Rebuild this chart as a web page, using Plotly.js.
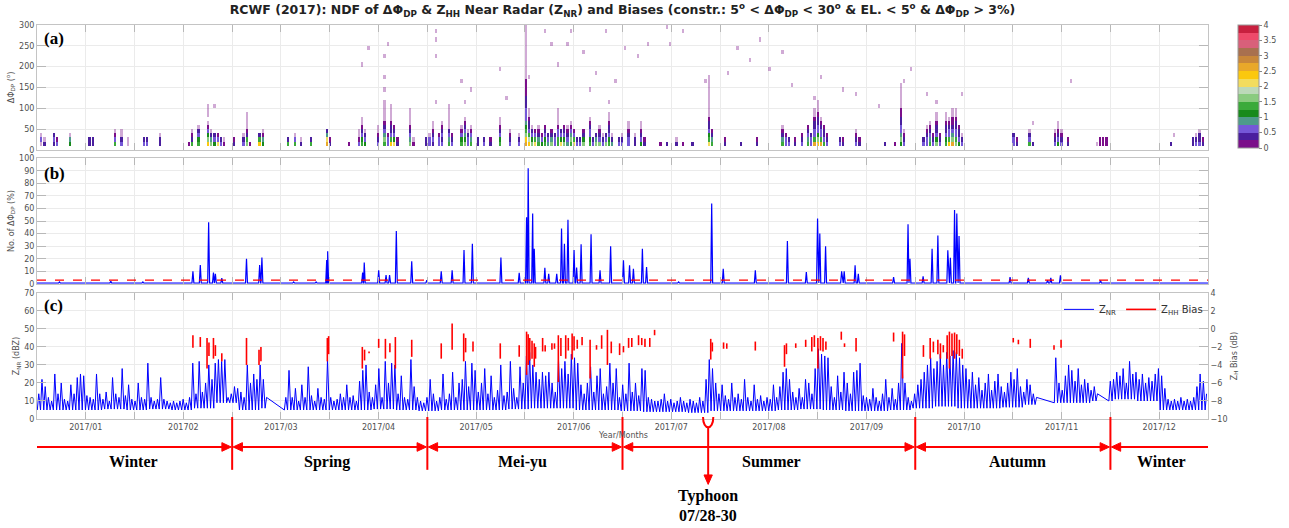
<!DOCTYPE html>
<html><head><meta charset="utf-8">
<script src="https://cdn.plot.ly/plotly-3.0.1.min.js"></script>
<style>html,body{margin:0;padding:0;background:#fff}#chart{width:1289px;height:528px}</style>
</head><body><div id="chart"></div>
<script>
// ---------- tick labels ----------
const monthLabels = ["2017/01","201702","2017/03","2017/04","2017/05","2017/06","2017/07","2017/08","2017/09","2017/10","2017/11","2017/12"];

// ---------- panel (c): Z_NR daily maxima (dBZ), null = no data ----------
const zHighJan = [14,22,18,12,10,25,14,20,11,10,19,14,23,25,24,13,12,11,25,14,11,15,10,23,14,12,28,13,19,11,10];
const zHighFeb = [20,12,11,31,12,10,11,23,11,10,9,10,9,10,11,9,12,31,14,32,15,20,30,22,31,33,32,33];
const zHighMar = [12,14,18,17,15,12,30,20,25,22,30,22,12,null,null,null,null,null,12,27,12,17,10,19,12,29,13,10,17,12,11];
const zHighApr = [33,12,10,11,14,12,19,12,13,10,21,27,30,15,12,19,28,12,32,20,31,30,14,24,12,11,33,18,12,10];
const zHighMay = [9,12,22,14,10,12,25,11,14,26,12,20,22,32,18,31,27,15,20,28,14,24,12,16,30,13,15,32,17,12,29];
const zHighJun = [20,35,37,30,26,22,26,24,26,20,15,33,28,32,25,36,34,31,19,14,20,29,15,24,28,14,18,31,20,28];
const zHighJul = [12,19,14,31,15,20,13,28,27,12,11,10,10,11,14,10,11,9,10,12,10,9,11,10,9,12,10,22,33,28,20];
const zHighAug = [14,19,13,11,20,12,14,11,22,12,10,19,11,13,10,12,11,19,12,18,26,28,22,15,12,17,12,22,20,14,28];
const zHighSep = [39,36,35,34,18,12,24,15,26,20,14,26,27,31,13,12,11,17,12,10,14,22,12,17,11,20,42,20,12,10];
const zHighOct = [14,19,22,26,30,34,28,32,36,30,37,35,38,37,34,30,28,22,26,19,23,16,20,25,16,21,25,18,15,20,26];
const zHighNov = [22,28,18,15,22,19,14,12,null,null,null,null,null,34,20,16,24,30,27,21,28,19,22,20,16,18,14,null,null,null];
const zHighDec = [21,22,26,24,28,20,32,25,26,22,25,20,23,21,25,28,24,17,11,10,11,10,12,10,11,10,12,18,25,21,14];
// weekly background level (dBZ)
const zLowWeekly = [5,5,5,5.5,5,5.5,5,6,9,5, 6,5,5,5,5,5.5,5,4.5,5,5, 5,5.5,6,6,5,5,4.5,4,4,3.5, 4.5,4.5,4.5,5,5.5,5,4.5,4.5,5,6, 7,6,6,6.5,8,9,9,10,11,10, 5,5,5];

// ---------- panel (c): Z_HH bias segments (dB) ----------
const biasDay = [48.6,50.9,53,53.6,55,55.6,57.6,65.3,69.2,69.8,90.5,90.9,101.4,102.1,103.5,106.5,108.6,110,111.7,116.8,126,129.4,133,133.6,135.9,144.4,150.3,152.6,153.1,153.6,154.3,155,155.4,157.6,158.4,160.5,161.3,162.5,163.3,164.8,165.6,166.8,167.4,168.4,169.9,172.4,174.4,176,177.8,179,181.6,182.8,184.4,185.4,187.5,188.5,189.5,191,192.5,210,210.5,214,215,223.9,233,233.6,236.5,239.6,241.5,242.3,243.4,244.2,245,245.9,250.7,251.7,255.3,267,269.8,270.4,276.3,278.4,279.4,280.8,281.6,282.5,283.7,284.4,285.2,286,286.7,287.5,288.4,304.3,305.9,309.6,317,319.2];
const biasHi  = [-0.7,-0.9,-1.0,-1.5,-1.0,-1.8,-2.7,-1.0,-2.3,-2.0,-1.0,-0.8,-2.0,-2.3,-2.5,-1.1,-1.1,-1.6,-0.9,-1.2,-1.6,0.6,-0.5,-1.0,-1.4,-1.6,-1.8,-0.3,-0.6,-1.0,-1.3,-1.6,-2.0,-1.0,-1.8,-1.6,-1.6,-0.7,-1.0,-0.7,-1.0,-0.5,-0.8,-1.2,-0.9,-1.2,-1.8,-0.7,-0.1,-1.4,-1.6,-1.9,-1.0,-1.0,-0.7,-1.0,-1.1,-1.0,-0.1,-1.1,-1.5,-1.5,-1.6,-1.4,-1.8,-1.6,-1.6,-1.2,-0.9,-0.7,-1.0,-0.8,-1.0,-1.4,-0.3,-1.6,-1.0,-0.4,-0.3,-0.6,-1.8,-1.0,-1.4,-1.2,-1.6,-1.8,-0.7,-0.3,-0.5,-0.4,-0.6,-1.2,-2.2,-1.0,-1.2,-1.1,-1.8,-1.2];
const biasLo  = [-2.1,-2.0,-4.4,-3.0,-3.3,-3.0,-3.6,-4.0,-4.0,-3.6,-3.6,-2.8,-4.4,-3.5,-2.7,-2.1,-3.3,-2.6,-4.4,-3.1,-3.3,-2.3,-3.6,-2.6,-2.5,-3.3,-3.1,-5.1,-4.0,-3.5,-3.3,-4.2,-3.3,-2.5,-2.5,-2.3,-2.2,-5.9,-3.0,-3.3,-2.4,-3.4,-2.4,-2.2,-1.8,-5.5,-2.3,-2.2,-4.0,-2.7,-2.9,-2.6,-2.1,-2.0,-1.8,-1.8,-2.0,-2.0,-0.7,-3.4,-2.5,-2.2,-2.2,-2.4,-4.2,-2.8,-2.1,-2.0,-2.5,-2.0,-4.4,-2.4,-2.5,-2.3,-1.2,-2.0,-2.5,-1.4,-5.5,-3.0,-3.1,-3.3,-2.6,-2.8,-3.3,-2.6,-3.3,-4.4,-3.0,-3.3,-2.8,-3.0,-3.3,-1.5,-1.7,-2.1,-2.3,-2.1];

// ---------- panel (b): No. of ΔΦDP (%) ----------
const pctBaseline = 0.6;
const pctDays = [7,23,33,48.6,50.9,53.5,55,55.6,57.6,65.3,69.4,70.1,80,87,90.3,90.6,101.5,102,106.5,108.8,109.9,112,116.8,121.5,126,129.4,133.1,135.7,144.6,150.3,152.6,153.1,154.5,155,158.3,159.5,162,163.5,164.4,165.5,167.4,168.2,169.6,172.7,175.5,178.8,182.8,184.7,185.9,188.7,190,200,210.3,213.9,223.9,233.9,239.8,243.3,244,245.8,250.8,251.6,255,256,267,271.5,272.1,276.2,279,280.8,283.9,284.7,286,286.7,287.4,303.3,309,315,316,319,331.5];
const pctVals = [1.5,2,1.5,10,15,49,9,8,4.5,20,15,21,1.5,1.5,19,26,9,17,10.7,7,7,42,18,3,10,10.7,27,32,21,8.8,53,92,56,28,12.8,8,8,44,32,51,27,13,31.5,39.5,10.7,30,18.7,14.7,12,28,13.3,1.5,64,12,10.7,34,9.3,52,40,30,10,10,14.7,8,5.3,47.5,20,6,28,38.4,26.7,20.8,58.7,56,38,5.3,4.8,3,4.8,6.7,2.7];
const pctThreshold = 3;

// ---------- panel (a): NDF of ΔΦDP, columns [day, NDF in 10-20°, 20-30°, 30-40°, ...] ----------
const aCols = [
 [1,0.1,0.6,0.1],[2,0.3,0.1],[5,0.4,0.6,0.3],[6,0.5,0.2],[10,1.2,0.9,0.1],[16,0.3,0.4],[17,0.4,0.3],
 [24,1.3,0.6,0.2,0.1],[26,0.5,0.3,0.1,0.1],[28,0.1,0.1],[33,0.5,0.3],[34,0.6,0.4],[38,0.4,0.3,0.1],
 [47,0.2],[48,1.3,0.4,0.2,0.1],[50,1.4,1.2,0.6,0.3,0.1],[53,2.3,1.5,1.0,0.5,0.2,0.1,null,0.1,0.1],
 [54,1.6,0.8,0.3,0.1],[55,1.1,0.7,0.4],[56,2.1,0.6,0.2],[57,0.6,0.4],[58,0.2,0.1],[61,0.3,0.2],
 [64,0.5,0.3,0.1],[65,1.5,1.3,0.4,0.2,0.1,0.1,0.1,0.1],[66,0.2],[69,2.4,1.3,0.4],[70,1.2,0.9,0.2,0.1],
 [78,1.3,0.3],[80,1.4,0.5,0.1],[82,0.3,0.1],[85,1.3,0.4],[90,2.5,2.2,0.8,0.3],[91,0.4,0.2],[97,0.2],
 [100,0.6,0.2,0.1,0.1],[101,1.4,1.1,0.7,0.4,0.2,0.1,0.1],[102,1.2,0.5,0.3,0.1],[106,0.5,0.4,0.2,0.1,0.1],
 [108,1.3,1.5,0.8,0.6,0.3,0.2,0.1,0.1,0.1,0.1,0.1],[109,0.7,0.5,0.2],[110,2.4,1.4,0.6,0.4,0.3,0.2,0.1,0.1,0.1],
 [111,2.2,1.2,0.5,0.3,0.2],[112,0.4,0.2],[116,1.5,0.9,0.5,0.3,0.2,0.1,0.1,0.1,0.1],[117,0.2,0.1],
 [121,0.4,0.3],[122,0.6,0.5,0.1],[123,0.4,0.6,0.4,0.2,0.1,0.1],[125,0.5,0.6,0.2],[126,0.6,0.4,0.6,0.3,0.2,0.1],
 [128,1.3,0.8,0.5,0.3,0.1,0.1,0.1,0.1,0.1,0.1],[129,0.6,0.3,0.2],[132,1.4,1.0,0.5,0.2,0.1],
 [133,1.6,1.2,0.8,0.6,0.3,0.2,0.1],[134,0.7,0.6,0.3,0.1],[135,1.3,0.8,0.6,0.2,0.1],[137,0.4,0.3],
 [139,0.5,0.4],[141,0.3,0.2],[144,1.3,1.1,0.6,0.4,0.2,0.1,0.1],[147,0.6,0.3,0.2,0.1],[150,0.7,0.4,0.1],
 [152,2.6,2.3,1.6,1.3,1.1,0.9,0.7,0.6,0.5,0.4,0.3,0.3,0.2,0.2,0.2,0.2,0.1,0.1,0.1,0.1,0.1,0.1,0.1,0.1,0.1,0.1,0.1,0.1,0.1],
 [153,2.4,1.8,1.3,0.6,0.4,0.3,0.2,0.1,0.1],[154,1.6,1.2,0.6,0.3,0.1],[155,2.2,1.3,0.5,0.2],
 [156,1.4,0.9,0.4,0.2,0.1],[157,1.2,0.6,0.2],[158,1.3,1.1,0.5,0.3,0.2],[159,0.9,0.6,0.3],[160,1.5,0.8,0.4,0.2],
 [161,0.7,0.5,0.3],[162,1.4,1.3,0.6,0.5,0.2,0.1,0.1,0.1,0.1],[163,2.1,1.2,0.5,0.3],[164,1.5,1.2,0.6,0.4,0.2],
 [165,0.8,0.5,0.3,0.2,0.1],[166,1.4,1.6,0.8,0.5,0.2,0.1],[167,2.2,1.3,0.6,0.2],[168,0.6,0.4],[169,0.5,0.3],
 [170,1.6,1.0,0.4,0.2],[172,1.3,1.2,0.7,0.5,0.3,0.2,0.1],[173,0.6,0.3],[174,1.5,0.8,0.3],[175,1.7,0.6,0.4,0.2,0.1],
 [176,0.5,0.3,0.1],[177,1.6,0.7,0.3],[178,1.4,1.2,0.6,0.4,0.3,0.2,0.1,0.1],[179,0.8,0.4,0.1],[181,0.5,0.3],
 [182,0.6,0.3,0.1],[184,0.7,0.5,0.4,0.2,0.1,0.1],[186,0.4,0.3,0.1],[188,1.2,0.6,0.4,0.2,0.1,0.1],[189,0.3,0.2],
 [194,0.2],[196,0.3],[199,0.4,0.1],[201,0.2],[204,0.3],
 [209,2.2,1.4,1.0,0.6,0.4,0.3,0.2,0.1,0.1,0.1,0.1,0.1,0.1,0.1,0.1,0.1,0.1],[210,1.4,0.8,0.4,0.2],
 [214,0.3,0.2],[219,0.3],[224,0.4,0.2],[232,1.3,0.9,0.4,0.2,0.1],[233,0.6,0.5,0.2],[234,0.5,0.3],[236,0.3,0.2],
 [238,0.5,0.4,0.2],[240,1.3,0.9,0.5,0.3,0.2],[241,0.6,0.5,0.3],[242,2.5,1.4,0.7,0.6,0.4,0.3,0.2,0.1,0.1],
 [243,2.3,1.6,1.2,0.6,0.5,0.4,0.3,0.2,0.1,0.1,0.1],[244,2.6,1.3,0.6,0.5,0.3,0.2,0.1],[245,1.4,0.7,0.4,0.3,0.2],
 [246,0.6,0.4,0.2],[250,0.5,0.3],[251,0.4,0.2],[255,0.5,0.4,0.2,0.1],[256,0.3,0.2],[264,0.3],[267,0.2],
 [269,1.2,1.5,0.9,0.6,0.5,0.4,0.3,0.2,0.2,0.1,0.1,0.1,0.1,0.1,0.1],[270,0.6,0.4,0.2,0.1],[276,0.5,0.3],
 [277,0.7,0.5,0.3,0.2,0.1],[278,1.3,0.8,0.5,0.3,0.2,0.1],[279,0.6,0.4,0.2],[280,1.5,1.2,0.6,0.4,0.3,0.2,0.1,0.1],
 [281,0.5,0.3,0.2],[283,1.4,1.1,0.7,0.4,0.3,0.2,0.1,0.1],[284,2.3,1.3,0.6,0.5,0.3,0.2,0.1],
 [285,2.6,1.5,0.8,0.6,0.4,0.2,0.2,0.1,0.1],[286,1.6,1.3,0.7,0.5,0.4,0.3,0.2,0.1,0.1],[287,1.2,0.6,0.4,0.3,0.2],
 [288,0.5,0.3,0.1],[304,0.6,0.5,0.3],[305,0.4,0.2],[309,1.3,0.5,0.3,0.1],[310,0.3],[317,0.6,0.4,0.2,0.1],
 [318,1.2,0.5,0.3,0.2,0.1,0.1],[319,0.5,0.3,0.2,0.1],[321,0.3,0.2],[330,0.1],[331,0.1,0.1],[332,0.1,0.1],
 [333,0.1,0.1],[353,0.3],[360,0.4,0.3],[361,0.5,0.3,0.1],[362,0.6,0.4,0.3,0.1],[363,0.4,0.2]
];
// isolated low-NDF occurrences at large ΔΦDP
const sDays = [1,24,53,53,55,65,90,101,103,108,109,108,108,110,116,124,124,124,124,132,133,135,144,146,153,158,160,162,165,166,170,172,174,177,178,180,183,187,190,196,197,201,208,215,218,222,225,228,232,235,242,244,251,255,262,270,272,277,280,288,310,322,354];
const sPhi  = [35,45,95,105,100,85,45,205,245,225,255,145,175,105,95,115,225,265,285,165,115,145,195,125,170,280,255,200,250,280,230,145,185,280,115,165,245,225,255,290,255,285,165,185,245,215,265,195,235,155,125,175,145,135,100,160,190,130,115,135,60,165,35];
const sNdf = 0.1;
const darkNdfDays = [331,332,333];   // dense deep-purple patch in mid-November

const ndfColors = ['#7b0f8a','#4a1f9e','#7558d8','#4e9a8a','#188a1c','#3baa3b','#8acb7f','#bcd9b8','#f2dc5d','#fbc80e','#e8a82a','#c8873a','#a8704f','#d8607a','#ee4a6a','#c8203f'];

// ---------- build ----------
const NB = 29;
const dayCenters = Array.from({length:365}, (_, d) => d + 0.5);
const phiCenters = Array.from({length:NB}, (_, i) => 15 + 10*i);
const zA = Array.from({length:NB}, () => new Array(365).fill(null));   // opaque cells
const zS = Array.from({length:NB}, () => new Array(365).fill(null));   // faint (very low NDF) cells
aCols.forEach(c => {
  for (let i = 1; i < c.length; i++) {
    const v = c[i];
    if (v === null) continue;
    if (v < 0.15 && darkNdfDays.indexOf(c[0]) < 0) zS[i-1][c[0]] = v; else zA[i-1][c[0]] = v;
  }
});
sDays.forEach((d, i) => { const r = Math.floor((sPhi[i]-10)/10); if (zA[r][d] === null) zS[r][d] = sNdf; });
const cs = [];
ndfColors.forEach((c, i) => { cs.push([i/16, c]); cs.push([(i+1)/16, c]); });

const zHigh = [].concat(zHighJan,zHighFeb,zHighMar,zHighApr,zHighMay,zHighJun,zHighJul,zHighAug,zHighSep,zHighOct,zHighNov,zHighDec);
const znX = [], znY = [];
zHigh.forEach((hi, d) => {
  const lo = zLowWeekly[Math.floor(d/7)];
  znX.push(d + 0.1, d + 0.55);
  if (hi === null) znY.push(null, null); else znY.push(lo, hi);
});

const bX = [], bY = [];
biasDay.forEach((d, i) => { bX.push(d, d, null); bY.push(biasHi[i], biasLo[i], null); });

const pts = [[0, pctBaseline]];
pctDays.forEach((d, i) => { pts.push([d-0.3, pctBaseline], [d, pctVals[i]], [d+0.3, pctBaseline]); });
pts.push([365, pctBaseline]);
pts.sort((a, b) => a[0] - b[0]);

const labelVals = monthLabels.map((_, m) => (2*m+1)*365/24);
const halfVals = [];
for (let k = 2; k < 24; k += 2) halfVals.push(k*365/24);

const tf = {family:'DejaVu Sans, sans-serif', size:8, color:'#505050'};
const grid = '#ebebeb', frame = '#c4c4c4';
function xax(anchor, labels) {
  return {domain:[0,1], anchor, range:[0,365], tickmode:'array', tickvals:labelVals, ticktext:monthLabels,
    showticklabels:labels, showgrid:true, gridcolor:grid, zeroline:false, showline:true, linecolor:frame, mirror:'ticks',
    ticks:'inside', ticklen:7, tickcolor:'#b8b8b8', tickfont:tf,
    minor:{tickmode:'array', tickvals:halfVals, ticks:'inside', ticklen:7, tickcolor:'#b8b8b8', showgrid:true, gridcolor:grid}};
}
function yax(domain, range, dtick, title, mirror, anchor) {
  return {domain, anchor, range, dtick, tick0:0, showgrid:true, gridcolor:grid,
    zeroline:false, showline:true, linecolor:frame, mirror, ticks:'inside', ticklen:9, tickcolor:'#b8b8b8',
    tickfont:tf, title:{text:title, font:{family:'DejaVu Sans, sans-serif', size:8, color:'#505050'}, standoff:3}};
}

const traces = [
  {type:'heatmap', x:dayCenters, y:phiCenters, z:zS, xaxis:'x', yaxis:'y', zmin:0, zmax:4, colorscale:cs,
   showscale:false, opacity:0.35, xgap:1, hoverinfo:'skip', showlegend:false},
  {type:'heatmap', x:dayCenters, y:phiCenters, z:zA, xaxis:'x', yaxis:'y', zmin:0, zmax:4, colorscale:cs, xgap:1,
   hoverinfo:'skip', showlegend:false,
   colorbar:{x:1.0254, xanchor:'left', xpad:0, ypad:0, y:1, yanchor:'top', len:0.312, lenmode:'fraction', thickness:21,
     tickvals:[0,0.5,1,1.5,2,2.5,3,3.5,4], ticktext:['0','0.5','1','1.5','2','2.5','3','3.5','4'],
     ticks:'outside', ticklen:3, tickcolor:'#888', tickfont:tf, outlinecolor:'#999', outlinewidth:1}},
  {type:'scatter', mode:'lines', x:pts.map(p=>p[0]), y:pts.map(p=>p[1]), xaxis:'x2', yaxis:'y2',
   line:{color:'#0000ff', width:1.2}, showlegend:false, hoverinfo:'skip'},
  {type:'scatter', mode:'lines', name:'Z<sub>NR</sub>', x:znX, y:znY, connectgaps:true, xaxis:'x3', yaxis:'y3',
   line:{color:'#0000ff', width:1}, hoverinfo:'skip'},
  {type:'scatter', mode:'lines', name:'Z<sub>HH</sub> Bias', x:bX, y:bY, xaxis:'x3', yaxis:'y4',
   line:{color:'#ff0000', width:1.6}, hoverinfo:'skip'}
];

const red = '#ff0000';
const serif = {family:'Liberation Serif, Times New Roman, serif', size:16, color:'#000'};
const bounds = [60.83, 121.67, 182.5, 273.75, 334.58];
const arrowY = -0.071;
const seasonNames = ['Winter','Spring','Mei-yu','Summer','Autumn','Winter'];
const seasonX = [30, 90.5, 151.4, 229, 305.6, 350.4];
const typhoonDay = 209.2;

const annotations = [
  {xref:'paper', yref:'paper', x:0.004, y:0.967, xanchor:'left', yanchor:'middle', showarrow:false, text:'<b>(a)</b>', font:{family:serif.family, size:17, color:'#000'}},
  {xref:'paper', yref:'paper', x:0.004, y:0.624, xanchor:'left', yanchor:'middle', showarrow:false, text:'<b>(b)</b>', font:{family:serif.family, size:17, color:'#000'}},
  {xref:'paper', yref:'paper', x:0.004, y:0.287, xanchor:'left', yanchor:'middle', showarrow:false, text:'<b>(c)</b>', font:{family:serif.family, size:17, color:'#000'}},
  {xref:'paper', yref:'paper', x:0.5, y:-0.043, xanchor:'center', yanchor:'middle', showarrow:false, text:'Year/Months', font:tf},
  {xref:'x3', yref:'paper', x:typhoonDay, y:-0.195, showarrow:false, text:'<b>Typhoon</b>', font:serif, yanchor:'middle'},
  {xref:'x3', yref:'paper', x:typhoonDay, y:-0.246, showarrow:false, text:'<b>07/28-30</b>', font:serif, yanchor:'middle'}
];
seasonNames.forEach((s, i) => annotations.push({xref:'x3', yref:'paper', x:seasonX[i], y:-0.109, showarrow:false,
  text:'<b>'+s+'</b>', font:serif, yanchor:'middle'}));

// arrow geometry (head length in days, half height in paper units)
const HL = 2.9, HH = 0.011;
function headRight(x) { return {type:'path', xref:'x3', yref:'paper', fillcolor:red, line:{color:red, width:1},
  path:`M ${x},${arrowY} L ${x-HL},${arrowY+HH} L ${x-HL},${arrowY-HH} Z`}; }
function headLeft(x) { return {type:'path', xref:'x3', yref:'paper', fillcolor:red, line:{color:red, width:1},
  path:`M ${x},${arrowY} L ${x+HL},${arrowY+HH} L ${x+HL},${arrowY-HH} Z`}; }
function hline(x0, x1) { return {type:'line', xref:'x3', yref:'paper', x0, x1, y0:arrowY, y1:arrowY, line:{color:red, width:2}}; }

const shapes = [
  {type:'line', xref:'x2', yref:'y2', x0:0, x1:365, y0:pctThreshold, y1:pctThreshold, line:{color:red, width:1.3, dash:'dash'}},
  {type:'path', xref:'x3', yref:'paper', path:'M 207.6,0.005 C 207.6,-0.03 210.8,-0.03 210.8,0.005', line:{color:red, width:2}},
  {type:'line', xref:'x3', yref:'paper', x0:typhoonDay, x1:typhoonDay, y0:-0.021, y1:-0.15, line:{color:red, width:2}},
  {type:'path', xref:'x3', yref:'paper', fillcolor:red, line:{color:red, width:1},
   path:`M ${typhoonDay},-0.166 L ${typhoonDay-1.3},-0.142 L ${typhoonDay+1.3},-0.142 Z`},
  hline(-1.2, bounds[0]-1), headRight(bounds[0]-0.3)
];
for (let i = 0; i < 4; i++) {
  shapes.push(hline(bounds[i]+1, bounds[i+1]-1), headLeft(bounds[i]+0.3), headRight(bounds[i+1]-0.3));
}
shapes.push(hline(bounds[4]+1, 365.4), headLeft(bounds[4]+0.3));
bounds.forEach(b => shapes.push({type:'line', xref:'x3', yref:'paper', x0:b, x1:b, y0:0.005, y1:-0.129, line:{color:red, width:2}}));

const yd = {overlaying:'y3', anchor:'x3', side:'right', range:[-10,4], dtick:2, tick0:0, showgrid:false, zeroline:false,
  showline:true, linecolor:frame, ticks:'inside', ticklen:9, tickcolor:'#b8b8b8', tickfont:tf,
  title:{text:'Z<sub>H</sub> Bias (dB)', font:{family:'DejaVu Sans, sans-serif', size:8, color:'#505050'}, standoff:4}};

const layout = {
  width:1289, height:528, margin:{l:37, r:71, t:25, b:109}, paper_bgcolor:'#fff', plot_bgcolor:'#fff',
  title:{text:'<b>RCWF (2017): NDF of ΔΦ<sub>DP</sub> & Z<sub>HH</sub> Near Radar (Z<sub>NR</sub>) and Biases (constr.: 5<sup>o</sup> < ΔΦ<sub>DP</sub> < 30<sup>o</sup> & EL. < 5<sup>o</sup> & ΔΦ<sub>DP</sub> > 3%)</b>',
    font:{family:'DejaVu Sans, sans-serif', size:12.5, color:'#222'}, x:0.5, xref:'paper', xanchor:'center', y:0.982, yanchor:'middle'},
  xaxis:xax('y', false), xaxis2:xax('y2', false), xaxis3:xax('y3', true),
  yaxis:yax([0.683,1], [0,300], 50, 'ΔΦ<sub>DP</sub> (<sup>o</sup>)', 'ticks', 'x'),
  yaxis2:yax([0.343,0.662], [0,100], 10, 'No. of ΔΦ<sub>DP</sub> (%)', 'ticks', 'x2'),
  yaxis3:yax([0,0.32], [0,70], 10, 'Z<sub>NR</sub> (dBZ)', true, 'x3'),
  yaxis4:yd,
  showlegend:true,
  legend:{orientation:'h', x:1.0, xanchor:'right', y:0.315, yanchor:'top', bgcolor:'rgba(0,0,0,0)',
    font:{family:'DejaVu Sans, sans-serif', size:10, color:'#333'}, itemwidth:30, tracegroupgap:0},
  annotations, shapes
};

Plotly.newPlot('chart', traces, layout, {displayModeBar:false, staticPlot:true});
</script>
</body></html>
